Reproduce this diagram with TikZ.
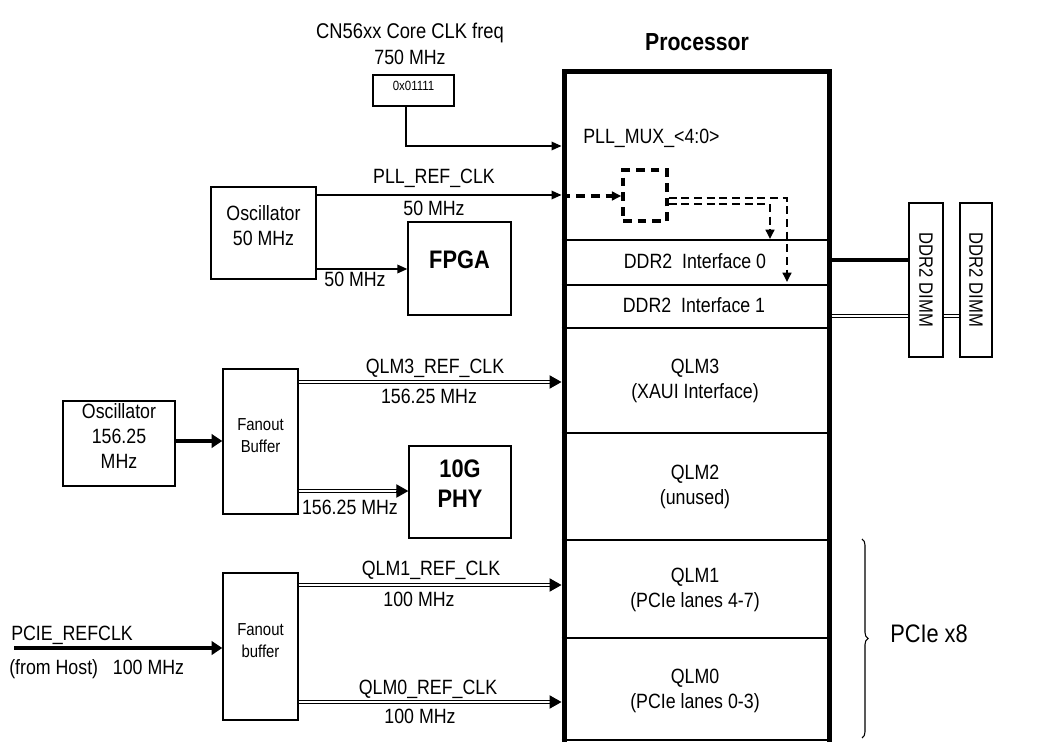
\documentclass[tikz,border=0pt]{standalone}
\usepackage{fontspec}
\setmainfont{Liberation Sans}[FakeStretch=0.86]
\usetikzlibrary{arrows.meta,fit,decorations.pathreplacing}
\begin{document}
\begin{tikzpicture}[x=0.75pt,y=-0.75pt,
  font=\fontsize{15.5}{18.75}\selectfont,
  box/.style={draw, line width=1pt, inner sep=0pt, align=center},
  lbl/.style={inner sep=0pt, align=center},
  conn/.style={line width=1pt, -{Triangle[length=7.5pt,width=6.5pt]}},
  thickconn/.style={line width=3pt, -{Triangle[length=8pt,width=10pt]}},
  dbl/.style={double, double distance=1.5pt, line width=0.75pt, shorten >=7pt},
  dbltip/.style={line width=0.75pt, -{Triangle[length=9pt,width=10pt]}},
  dblline/.style={double, double distance=1.5pt, line width=0.75pt},
  dsh/.style={dash pattern=on 6.5pt off 4.5pt, line width=2.6pt},
  dshtwo/.style={dash pattern=on 6pt off 3.5pt, line width=2pt, -{Triangle[length=7pt,width=6.5pt]}},
  fanfont/.style={font=\fontsize{13}{16.5}\selectfont},
  bigb/.style={font=\fontsize{19}{22.5}\selectfont\bfseries},
]
\useasboundingbox (0,0) rectangle (1040,742);

% ---------- processor ----------
\node[draw, line width=3.75pt, inner sep=0pt, fit={(564,71.5)(829,760)}] (proc) {};
\node[lbl, anchor=base, font=\fontsize{18.5}{22}\selectfont\bfseries] (ptitle) at (697,50.7) {Processor};
\foreach \yy in {240,285,328,433,540,638,740}
  \draw[line width=1pt] (proc.west |- 0,\yy) -- (proc.east |- 0,\yy);

\node[lbl, anchor=base west] (pllmux) at (583,143) {PLL\_MUX\_<4:0>};
\node[lbl] (ddr0) at (695,261) {DDR2\ \ Interface 0};
\node[lbl] (ddr1) at (694,305) {DDR2\ \ Interface 1};
\node[lbl] (qlm3) at (695,381) {QLM3\\(XAUI Interface)};
\node[lbl] (qlm2) at (695,487) {QLM2\\(unused)};
\node[lbl] (qlm1) at (695,590) {QLM1\\(PCIe lanes 4-7)};
\node[lbl] (qlm0) at (695,691) {QLM0\\(PCIe lanes 0-3)};

% ---------- core clk ----------
\node[lbl, anchor=base, font=\fontsize{16}{19}\selectfont] (cntitle) at (410,38.5) {CN56xx Core CLK freq};
\node[lbl, anchor=base] (cnfreq) at (410,65) {750 MHz};
\node[box, fit={(373,75)(454,106)}, font=\fontsize{10}{12}\selectfont] (cnbox) {0x01111};
\draw[conn] (cnbox.south -| 406,0) |- (proc.west |- 0,146);

% ---------- 50 MHz oscillator ----------
\node[box, fit={(211,187)(316,279)}] (osc1) {Oscillator\\50 MHz};
\draw[conn] (osc1.east |- 0,195) -- (proc.west |- 0,195);
\node[lbl, anchor=base] (pllref) at (434,184) {PLL\_REF\_CLK};
\node[lbl, anchor=base] (pllfreq) at (434,215) {50 MHz};
\node[box, fit={(408,222)(511,315)}, bigb] (fpga) {FPGA};
\draw[conn] (osc1.east |- 0,269) -- (fpga.west |- 0,269);
\node[lbl, anchor=base] (fpgafreq) at (355,286) {50 MHz};

% ---------- PLL (dashed) ----------
\node[draw, dsh, inner sep=0pt, fit={(623,170)(667,221)}] (pll) {};
\draw[dsh, -{Triangle[length=7pt,width=6.5pt]}] (proc.west |- 0,196) -- (pll.west |- 0,196);
\coordinate (ddrzero) at (770,239);
\coordinate (ddrone) at (787,282);
\draw[dshtwo] (pll.east |- 0,204) -| (ddrzero);
\draw[dshtwo] (pll.east |- 0,198) -| (ddrone);

% ---------- DIMMs ----------
\node[box, rotate=-90, minimum width=115.5pt, minimum height=25.5pt, font=\fontsize{14.5}{17}\selectfont] (dimm1) at (926,280) {DDR2 DIMM};
\node[box, rotate=-90, minimum width=115.5pt, minimum height=24pt, font=\fontsize{14.5}{17}\selectfont] (dimm2) at (976,280) {DDR2 DIMM};
\draw[line width=2.5pt] (proc.east |- 0,260) -- (dimm1.south |- 0,260);
\draw[dblline] (proc.east |- 0,316) -- (dimm1.south |- 0,316);
\draw[dblline] (dimm1.north |- 0,316) -- (dimm2.south |- 0,316);

% ---------- 156.25 MHz group ----------
\node[box, fit={(63,401)(175,486)}] (osc2) {Oscillator\\156.25\\MHz};
\node[box, fit={(223,369)(298,514)}, fanfont] (fan1) {Fanout\\Buffer};
\draw[thickconn] (osc2.east |- 0,441) -- (fan1.west |- 0,441);
\draw[dbl] (fan1.east |- 0,382) -- (proc.west |- 0,382);
\draw[dbltip] ([xshift=-9pt]proc.west |- 0,382) -- (proc.west |- 0,382);
\node[lbl, anchor=base] (qlm3ref) at (435,373) {QLM3\_REF\_CLK};
\node[lbl, anchor=base] (qlm3freq) at (429,403) {156.25 MHz};
\node[box, fit={(409,446)(511,538)}, bigb] (phy) {10G\\PHY};
\draw[dbl] (fan1.east |- 0,491) -- (phy.west |- 0,491);
\draw[dbltip] ([xshift=-9pt]phy.west |- 0,491) -- (phy.west |- 0,491);
\node[lbl, anchor=base] (phyfreq) at (350,514) {156.25 MHz};

% ---------- PCIe group ----------
\coordinate (pciein) at (14,648);
\node[lbl, anchor=base west] (pcielbl) at (11,640) {PCIE\_REFCLK};
\node[lbl, anchor=base west] (hostlbl) at (9,674) {(from Host)\ \ \ 100 MHz};
\node[box, fit={(223,573)(298,720)}, fanfont] (fan2) {Fanout\\buffer};
\draw[thickconn] (pciein) -- (fan2.west |- pciein);
\draw[dbl] (fan2.east |- 0,585) -- (proc.west |- 0,585);
\draw[dbltip] ([xshift=-9pt]proc.west |- 0,585) -- (proc.west |- 0,585);
\draw[dbl] (fan2.east |- 0,702) -- (proc.west |- 0,702);
\draw[dbltip] ([xshift=-9pt]proc.west |- 0,702) -- (proc.west |- 0,702);
\node[lbl, anchor=base] (qlm1ref) at (431,575) {QLM1\_REF\_CLK};
\node[lbl, anchor=base] (qlm1freq) at (419,606) {100 MHz};
\node[lbl, anchor=base] (qlm0ref) at (428,694) {QLM0\_REF\_CLK};
\node[lbl, anchor=base] (qlm0freq) at (420,723) {100 MHz};

% ---------- PCIe x8 brace ----------
\draw[decorate, decoration={brace, amplitude=4.5pt}, line width=0.8pt] (862,539) -- (862,738);
\node[lbl, anchor=base west, font=\fontsize{19}{22}\selectfont] (pcie) at (890,642) {PCIe x8};
\end{tikzpicture}
\end{document}
